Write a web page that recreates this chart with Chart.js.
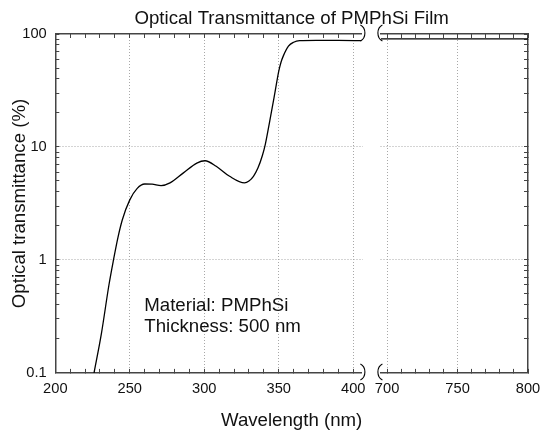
<!DOCTYPE html>
<html>
<head>
<meta charset="utf-8">
<script src="https://cdn.jsdelivr.net/npm/chart.js@4/dist/chart.umd.min.js"></script>
<style>
html,body{margin:0;padding:0;background:#fff;}
#wrap{width:542px;height:434px;}
</style>
</head>
<body>
<div id="wrap"><canvas id="c" width="542" height="434"></canvas></div>
<script>
// ---- data ----
const wavelengthLeft = [226, 231, 236, 239, 242, 245, 250, 255, 260, 265, 271, 277, 286, 295, 300.5, 308, 317, 327, 330, 333, 336, 339, 341, 344, 347.5, 350, 351.5, 353, 356.5, 360, 364, 375, 390, 405.5];
const transLeft      = [0.1, 0.225, 0.6, 0.99, 1.57, 2.27, 3.4, 4.3, 4.7, 4.68, 4.55, 4.81, 5.9, 7.2, 7.55, 6.75, 5.5, 4.81, 5.0, 5.5, 6.5, 8.4, 10.6, 17.1, 30.7, 46.9, 56.2, 63.7, 78, 84.6, 87.3, 87.8, 87.7, 87.3];
const wavelengthRight = [695.6, 750, 800];
const transRight      = [90.5, 90.5, 90.5];

// ---- ticks / labels ----
const xTicksLeft  = [200,210,220,230,240,250,260,270,280,290,300,310,320,330,340,350,360,370,380,390,400];
const xLabelsLeft = [200,250,300,350,400];
const xTicksRight  = [700,710,720,730,740,750,760,770,780,790,800];
const xLabelsRight = [700,750,800];
const yTicks  = [0.1,0.2,0.3,0.4,0.5,0.6,0.7,0.8,0.9,1,2,3,4,5,6,7,8,9,10,20,30,40,50,60,70,80,90,100];
const yLabels = [0.1,1,10,100];
const annotationLines = ['Material: PMPhSi', 'Thickness: 500 nm'];

const titleText = 'Optical Transmittance of PMPhSi Film';
const xTitle = 'Wavelength (nm)';
const yTitle = 'Optical transmittance (%)';

// ---- style ----
const FONT = '"Liberation Sans", Arial, Helvetica, sans-serif';
const TEXT = '#111';
const FRAME = '#444';
const GRID = '#a8a8a8';
const BIG = 18.67, SMALL = 14.67;

const LEFT_RANGE = [200, 405.8];
const RIGHT_RANGE = [695.6, 800];
const W_LEFT = 306.6, W_GAP = 19, W_RIGHT = 147.1;

const ANNOT_X = 259.7, ANNOT_Y = 0.353;

function tickSetter(list){ return s => { s.ticks = list.map(v => ({value: v})); }; }

function xAxis(pos, stack, weight, range, ticks, labels, showLabels, drawGrid, h){
  return {
    type: 'linear', position: pos, stack: stack, stackWeight: weight,
    min: range[0], max: range[1], offset: false, display: true,
    afterBuildTicks: tickSetter(ticks),
    ticks: {
      autoSkip: false, maxRotation: 0, minRotation: 0, padding: 11.6,
      font: {family: FONT, size: SMALL}, color: TEXT,
      callback: v => (showLabels && labels.includes(v)) ? String(v) : ''
    },
    grid: {
      drawOnChartArea: drawGrid,
      color: c => (c.tick && labels.includes(c.tick.value) && c.tick.value !== range[0] && c.tick.value !== range[1]) ? GRID : 'rgba(0,0,0,0)',
      lineWidth: 1,
      tickLength: -4, tickColor: FRAME, tickWidth: 1, tickBorderDash: []
    },
    border: {display: true, color: FRAME, width: 1.5, dash: [1, 2]},
    afterFit: s => { s.height = h; s.paddingLeft = 0; s.paddingRight = 0; }
  };
}
function gapAxis(pos, stack, h){
  return {
    type: 'linear', position: pos, stack: stack, stackWeight: W_GAP, min: 0, max: 1, display: true,
    ticks: {display: false}, grid: {display: false}, border: {display: false},
    afterFit: s => { s.height = h; s.paddingLeft = 0; s.paddingRight = 0; }
  };
}
function yAxis(pos, showLabels, drawGrid, w){
  const cfg = {
    type: 'logarithmic', position: pos, min: 0.1, max: 100, display: true,
    afterBuildTicks: tickSetter(yTicks),
    ticks: {
      autoSkip: false, padding: 12.6, font: {family: FONT, size: SMALL}, color: TEXT,
      callback: v => (showLabels && yLabels.includes(v)) ? String(v) : ''
    },
    grid: {
      drawOnChartArea: drawGrid,
      color: c => (c.tick && (c.tick.value === 1 || c.tick.value === 10)) ? GRID : 'rgba(0,0,0,0)',
      lineWidth: 1,
      tickLength: -4, tickColor: FRAME, tickWidth: 1, tickBorderDash: []
    },
    border: {display: true, color: FRAME, width: 1.5, dash: [1, 2]},
    afterFit: s => { s.width = w; s.paddingTop = 0; s.paddingBottom = 0; }
  };
  if (showLabels) {
    cfg.title = {display: true, text: yTitle, color: TEXT, font: {family: FONT, size: BIG}, padding: {top: 8.8, bottom: 0}};
  }
  return cfg;
}

const breakPlugin = {
  id: 'axisBreak',
  beforeDatasetsDraw(chart){
    const {ctx, chartArea, scales} = chart;
    const g = scales.xGap;
    ctx.save();
    ctx.fillStyle = '#fff';
    ctx.fillRect(g.left + 1, chartArea.top + 1.5, (g.right - g.left) - 2, chartArea.bottom - chartArea.top - 3);
    ctx.restore();
  },
  afterDraw(chart){
    const {ctx, chartArea, scales} = chart;
    const xs = [[scales.xL.right, 1], [scales.xR.left, -1]];
    const ys = [chartArea.top - 1, chartArea.bottom - 1];
    ctx.save();
    ctx.strokeStyle = '#000';
    ctx.lineWidth = 1.1;
    xs.forEach(([x, d]) => {
      ys.forEach(y => {
        ctx.beginPath();
        ctx.moveTo(x - 1.5 * d, y - 8);
        ctx.bezierCurveTo(x + 4.5 * d, y - 5, x + 4.5 * d, y + 5, x - 1.5 * d, y + 8);
        ctx.stroke();
      });
    });
    ctx.restore();
  }
};

const annotationPlugin = {
  id: 'annot',
  afterDatasetsDraw(chart){
    const {ctx, scales} = chart;
    const x = scales.xL.getPixelForValue(ANNOT_X);
    const y = scales.y.getPixelForValue(ANNOT_Y);
    ctx.save();
    ctx.font = BIG + 'px ' + FONT;
    ctx.fillStyle = TEXT;
    ctx.textAlign = 'left';
    ctx.textBaseline = 'alphabetic';
    annotationLines.forEach((t, i) => ctx.fillText(t, x, y + i * 21));
    ctx.restore();
  }
};

const lineStyle = {
  borderColor: '#000', borderWidth: 1.3, pointRadius: 0, fill: false,
  cubicInterpolationMode: 'monotone', yAxisID: 'y'
};

new Chart(document.getElementById('c'), {
  type: 'line',
  data: {
    datasets: [
      Object.assign({data: wavelengthLeft.map((w, i) => ({x: w, y: transLeft[i]})), xAxisID: 'xL'}, lineStyle),
      Object.assign({data: wavelengthRight.map((w, i) => ({x: w, y: transRight[i]})), xAxisID: 'xR'}, lineStyle)
    ]
  },
  options: {
    responsive: false,
    animation: false,
    events: [],
    layout: {padding: 0},
    plugins: {
      legend: {display: false},
      tooltip: {enabled: false},
      title: {
        display: true, text: titleText, fullSize: false, color: TEXT,
        font: {family: FONT, size: BIG, weight: 'normal'}, padding: {top: 7.8, bottom: 3.8}
      },
      subtitle: {
        display: true, text: xTitle, position: 'bottom', fullSize: false, color: TEXT,
        font: {family: FONT, size: BIG, weight: 'normal'}, padding: {top: 0, bottom: 2}
      }
    },
    scales: {
      xL:   xAxis('bottom', 'bottomStack', W_LEFT, LEFT_RANGE, xTicksLeft, xLabelsLeft, true, true, 36.7),
      xGap: gapAxis('bottom', 'bottomStack', 36.7),
      xR:   xAxis('bottom', 'bottomStack', W_RIGHT, RIGHT_RANGE, xTicksRight, xLabelsRight, true, true, 36.7),
      // top boxes are laid out in reverse order, so list them right-to-left
      tR:   xAxis('top', 'topStack', W_RIGHT, RIGHT_RANGE, xTicksRight, xLabelsRight, false, false, 0),
      tGap: gapAxis('top', 'topStack', 0),
      tL:   xAxis('top', 'topStack', W_LEFT, LEFT_RANGE, xTicksLeft, xLabelsLeft, false, false, 0),
      y:    yAxis('left', true, true, 55.3),
      yR:   yAxis('right', false, false, 14)
    }
  },
  plugins: [breakPlugin, annotationPlugin]
});
</script>
</body>
</html>
